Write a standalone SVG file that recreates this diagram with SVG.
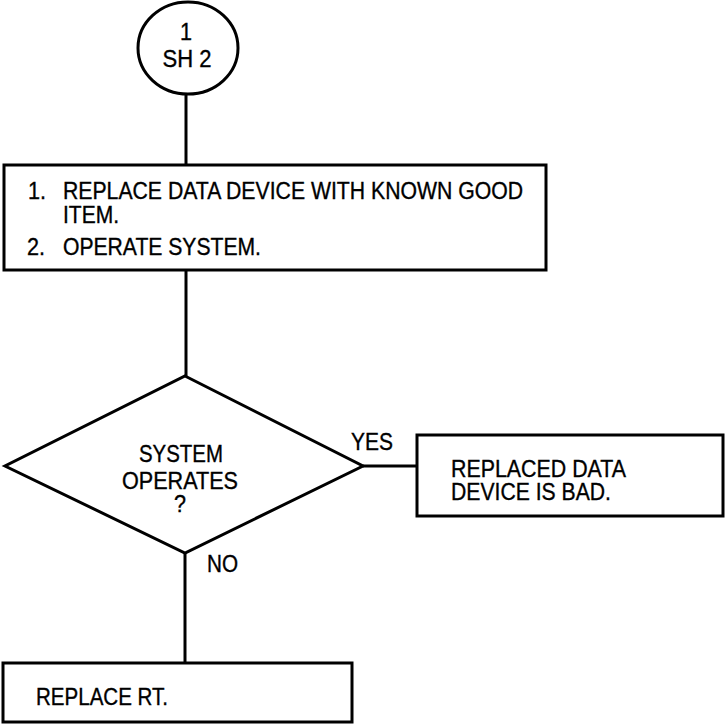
<svg xmlns="http://www.w3.org/2000/svg" width="725" height="724" viewBox="0 0 725 724">
<style>
.s{fill:none;stroke:#000;stroke-width:3}
.n{fill:#fff;stroke:#000;stroke-width:3}
text{font-family:"Liberation Sans",Arial,sans-serif;font-size:23.5px;fill:#000;stroke:#000;stroke-width:0.35}
</style>
<rect width="725" height="724" fill="#fff"/>
<g id="connectors">
<line class="s" x1="186" y1="94" x2="186" y2="165"/>
<line class="s" x1="186" y1="270" x2="186" y2="376"/>
<line class="s" x1="363" y1="466" x2="417" y2="466"/>
<line class="s" x1="185" y1="553" x2="185" y2="663"/>
<text x="351" y="450" textLength="42" lengthAdjust="spacingAndGlyphs">YES</text>
<text x="207" y="572" textLength="31" lengthAdjust="spacingAndGlyphs">NO</text>
</g>
<g id="start">
<ellipse class="n" cx="188" cy="48" rx="50" ry="46"/>
<text x="186" y="40" text-anchor="middle" textLength="12" lengthAdjust="spacingAndGlyphs">1</text>
<text x="187" y="67" text-anchor="middle" textLength="49" lengthAdjust="spacingAndGlyphs">SH 2</text>
</g>
<g id="step1">
<rect class="n" x="4" y="165" width="542" height="105"/>
<text x="28" y="199" textLength="18" lengthAdjust="spacingAndGlyphs">1.</text>
<text x="63" y="199" textLength="460" lengthAdjust="spacingAndGlyphs">REPLACE DATA DEVICE WITH KNOWN GOOD</text>
<text x="63" y="223" textLength="56" lengthAdjust="spacingAndGlyphs">ITEM.</text>
<text x="27" y="255" textLength="18" lengthAdjust="spacingAndGlyphs">2.</text>
<text x="63" y="255" textLength="198" lengthAdjust="spacingAndGlyphs">OPERATE SYSTEM.</text>
</g>
<g id="decision">
<polygon class="n" points="185,376 363,466 185,553 5,466"/>
<text x="181" y="462" text-anchor="middle" textLength="84" lengthAdjust="spacingAndGlyphs">SYSTEM</text>
<text x="180" y="489" text-anchor="middle" textLength="116" lengthAdjust="spacingAndGlyphs">OPERATES</text>
<text x="180" y="512" text-anchor="middle" textLength="12" lengthAdjust="spacingAndGlyphs">?</text>
</g>
<g id="bad">
<rect class="n" x="417" y="435" width="306" height="81"/>
<text x="451" y="477" textLength="175" lengthAdjust="spacingAndGlyphs">REPLACED DATA</text>
<text x="451" y="500" textLength="160" lengthAdjust="spacingAndGlyphs">DEVICE IS BAD.</text>
</g>
<g id="replace">
<rect class="n" x="3" y="663" width="349" height="59"/>
<text x="36" y="705" textLength="132" lengthAdjust="spacingAndGlyphs">REPLACE RT.</text>
</g>
</svg>
